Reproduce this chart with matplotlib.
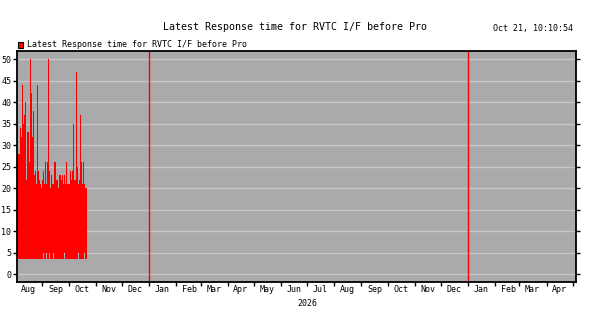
import matplotlib
matplotlib.use("Agg")
import matplotlib.pyplot as plt
import matplotlib.dates as mdates
import pandas as pd
from matplotlib.patches import Rectangle

plt.rcParams['font.family'] = 'DejaVu Sans Mono'

title = 'Latest Response time for RVTC I/F before Pro'
stamp = 'Oct 21, 10:10:54'

# one value per sample, Aug 3 .. Oct 22 2025
upper = [28, 28, 28, 34, 32, 44, 35, 37, 40, 22, 33, 33, 26, 50, 42, 32, 38, 23,
         24, 21, 44, 24, 22, 21, 20, 22, 24, 21, 26, 21, 26, 50, 24, 20, 23, 21,
         21, 26, 22, 22, 20, 23, 23, 22, 23, 21, 23, 21, 26, 21, 21, 21, 24, 22,
         24, 35, 22, 22, 47, 25, 21, 22, 37, 26, 21, 26, 21, 20, 20, 21]
notches = [26, 29, 32, 36, 46, 60, 66]
lower = [4.9 if i in notches else 3.6 for i in range(len(upper))]

dates = pd.date_range('2025-08-03', '2025-10-22', periods=len(upper))
year_marks = ['2026-01-01', '2027-01-01']

fig = plt.figure(figsize=(6.16, 3.33), dpi=100)
ax = fig.add_axes([17 / 616, 1 - 282 / 333, (576.3 - 17) / 616, (282 - 51.3) / 333])
ax.set_facecolor('#aaaaaa')

ax.fill_between(dates, lower, upper, step='post', color='#ff0000', linewidth=0)
for d in year_marks:
    ax.axvline(pd.Timestamp(d), color='#ff0000', linewidth=1)

ax.set_xlim(pd.Timestamp('2025-08-03'), pd.Timestamp('2027-05-05'))
ax.set_ylim(-1.8, 51.8)
ax.set_yticks(range(0, 51, 5))
ax.yaxis.grid(True, color='#c8c8c8', linewidth=1)
ax.set_axisbelow(True)

ax.xaxis.set_major_locator(mdates.MonthLocator())
ax.xaxis.set_major_formatter(plt.NullFormatter())
ax.xaxis.set_minor_locator(mdates.MonthLocator(bymonthday=16))
ax.xaxis.set_minor_formatter(mdates.DateFormatter('%b'))
ax.tick_params(axis='x', which='major', length=3, width=1, direction='out')
ax.tick_params(axis='x', which='minor', length=0, labelsize=6, pad=2)
ax.tick_params(axis='y', length=3, width=1, labelsize=6, right=True, pad=1)
for s in ax.spines.values():
    s.set_linewidth(1.3)

ax.text(pd.Timestamp('2026-07-01'), -0.072, '2026', transform=ax.get_xaxis_transform(),
        ha='center', va='top', fontsize=6)

fig.text(295 / 616, 1 - 27 / 333, title, ha='center', va='center', fontsize=7.2)
fig.text(573 / 616, 1 - 29 / 333, stamp, ha='right', va='center', fontsize=6)
fig.patches.append(Rectangle((18 / 616, 1 - 48 / 333), 5 / 616, 6 / 333,
                             transform=fig.transFigure, facecolor='#ff0000',
                             edgecolor='black', linewidth=0.8))
fig.text(27 / 616, 1 - 44.5 / 333, title, ha='left', va='center', fontsize=6)

fig.savefig('out.png', dpi=100)
